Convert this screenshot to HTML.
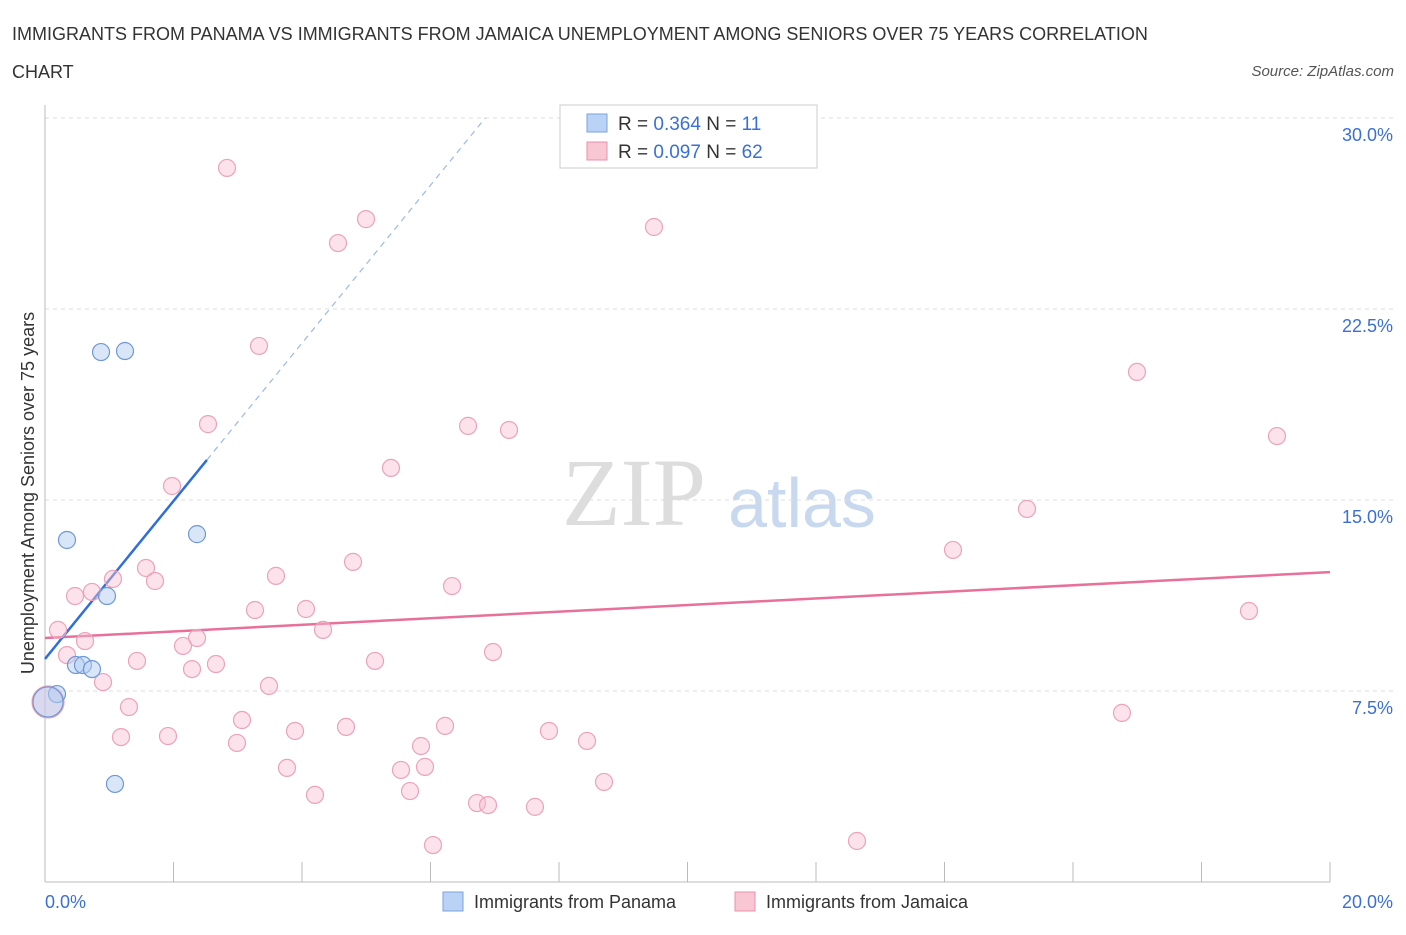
<!DOCTYPE html>
<html><head><meta charset="utf-8"><style>
body{margin:0;background:#fff;font-family:"Liberation Sans",sans-serif;}
</style></head><body>
<svg width="1406" height="930" xmlns="http://www.w3.org/2000/svg" id="svg" font-family="Liberation Sans, sans-serif">
<text x="12" y="40" font-size="18" fill="#333">IMMIGRANTS FROM PANAMA VS IMMIGRANTS FROM JAMAICA UNEMPLOYMENT AMONG SENIORS OVER 75 YEARS CORRELATION</text>
<text x="12" y="78" font-size="18" fill="#333">CHART</text>
<text x="1394" y="76" font-size="15" fill="#555" font-style="italic" text-anchor="end">Source: ZipAtlas.com</text>
<text x="634" y="525" font-size="96" fill="#ddd" font-family="Liberation Serif, serif" text-anchor="middle">ZIP</text>
<text x="802" y="527" font-size="70" fill="#c8d8ee" text-anchor="middle">atlas</text>
<g id="grid"></g>
<line x1="45" y1="105" x2="45" y2="882" stroke="#bbb"/>
<line x1="45" y1="882" x2="1330" y2="882" stroke="#bbb"/>
<text x="34" y="493" font-size="18" fill="#333" text-anchor="middle" transform="rotate(-90 34 493)">Unemployment Among Seniors over 75 years</text>
<text x="45" y="908" font-size="18" fill="#3b6fd4">0.0%</text>
<text x="1393" y="908" font-size="18" fill="#3b6fd4" text-anchor="end">20.0%</text>
<g id="lines"></g>
<g id="pts"></g>
<g>
<rect x="560" y="105" width="257" height="63" fill="#fff" stroke="#ccc"/>
<rect x="587" y="114" width="20" height="18" fill="#b9d2f5" stroke="#7aa3e0"/>
<text x="618" y="130" font-size="19" fill="#333">R = <tspan fill="#3b6fd4">0.364</tspan>   N =  <tspan fill="#3b6fd4">11</tspan></text>
<rect x="587" y="142" width="20" height="18" fill="#f9c6d4" stroke="#e890aa"/>
<text x="618" y="158" font-size="19" fill="#333">R = <tspan fill="#3b6fd4">0.097</tspan>   N = <tspan fill="#3b6fd4">62</tspan></text>
</g>
<g>
<rect x="443" y="892" width="20" height="19" fill="#b9d2f5" stroke="#7aa3e0"/>
<text x="474" y="908" font-size="18" fill="#333">Immigrants from Panama</text>
<rect x="735" y="892" width="20" height="19" fill="#f9c6d4" stroke="#e890aa"/>
<text x="766" y="908" font-size="18" fill="#333">Immigrants from Jamaica</text>
</g>
</svg>
<script>
const yTicks=[7.5,15,22.5,30];
const yTickLabels=["7.5%","15.0%","22.5%","30.0%"];
const xTicks=[0,2,4,6,8,10,12,14,16,18,20];
const panamaX=[0.872,1.245,0.342,2.366,0.965,0.482,0.591,0.731,0.187,1.089,0.047];
const panamaY=[20.81,20.85,13.43,13.66,11.23,8.52,8.52,8.36,7.38,3.85,7.07];
const jamaicaX=[2.833,4.996,4.560,9.478,3.331,16.996,2.537,6.584,7.222,19.175,5.385,1.977,15.284,14.132,4.794,1.572,1.712,1.058,3.595,6.335,0.467,0.731,3.268,4.062,18.739,0.202,4.327,0.623,2.366,2.148,0.342,6.973,1.432,5.136,2.661,2.288,0.903,3.486,1.307,16.762,3.066,4.685,6.226,3.891,7.844,1.183,1.914,2.988,8.436,5.852,3.766,5.914,5.541,8.700,5.681,4.202,6.724,6.895,7.626,12.638,6.039,0.047];
const jamaicaY=[28.04,26.03,25.09,25.72,21.05,20.03,17.98,17.91,17.75,17.51,16.26,15.55,14.65,13.04,12.57,12.33,11.82,11.90,12.02,11.62,11.23,11.39,10.68,10.72,10.64,9.90,9.90,9.46,9.58,9.27,8.91,9.03,8.68,8.68,8.56,8.36,7.85,7.70,6.87,6.64,6.36,6.09,6.13,5.93,5.93,5.69,5.73,5.46,5.54,5.34,4.48,4.52,4.40,3.93,3.57,3.42,3.10,3.02,2.95,1.61,1.45,7.07];
const panamaTrend=[8.76,3.10];
const jamaicaTrend=[9.58,0.1295];
const NS="http://www.w3.org/2000/svg";
const X=v=>45+v/20*1285, Y=v=>882-v/7.5*191;
function mk(t,a,p){const e=document.createElementNS(NS,t);for(const k in a)e.setAttribute(k,a[k]);document.getElementById(p).appendChild(e);return e;}
yTicks.forEach((t,i)=>{
 const l=mk('line',{x1:45,x2:1393,y1:Y(t),y2:Y(t),stroke:'#ddd','stroke-dasharray':'4,4'},'grid');
 
 
 const tx=mk('text',{x:1393,y:Y(t)+23,'font-size':18,fill:'#3b6fd4','text-anchor':'end'},'grid');
 tx.textContent=yTickLabels[i];
 
 
});
xTicks.forEach(t=>{
 const l=mk('line',{x1:X(t),x2:X(t),y1:862,y2:882,stroke:'#bbb'},'grid');
 
 
});
function pt(x,y,r,f,s){const c=mk('circle',{cx:X(x),cy:Y(y),r:r,fill:f,stroke:s,'stroke-width':1.2},'pts');
 
 }
jamaicaX.forEach((x,i)=>pt(x,jamaicaY[i],i==jamaicaX.length-1?16:8.5,'rgba(248,190,208,0.45)','#eba3b9'));
panamaX.forEach((x,i)=>pt(x,panamaY[i],i==panamaX.length-1?15:8.5,'rgba(180,205,242,0.5)','#6f98d6'));
let l=mk('line',{x1:X(0),y1:Y(jamaicaTrend[0]),x2:X(20),y2:Y(jamaicaTrend[0]+20*jamaicaTrend[1]),stroke:'#e8709a','stroke-width':2.5},'lines');


l=mk('line',{x1:X(0),y1:Y(panamaTrend[0]),x2:X(2.52),y2:Y(panamaTrend[0]+2.52*panamaTrend[1]),stroke:'#2f6fd6','stroke-width':2.5},'lines');


const xe=(30-panamaTrend[0])/panamaTrend[1];
l=mk('line',{x1:X(2.52),y1:Y(panamaTrend[0]+2.52*panamaTrend[1]),x2:X(xe),y2:Y(30),stroke:'#9bb8e6','stroke-width':1.2,'stroke-dasharray':'6,5'},'lines');


</script>
</body></html>
